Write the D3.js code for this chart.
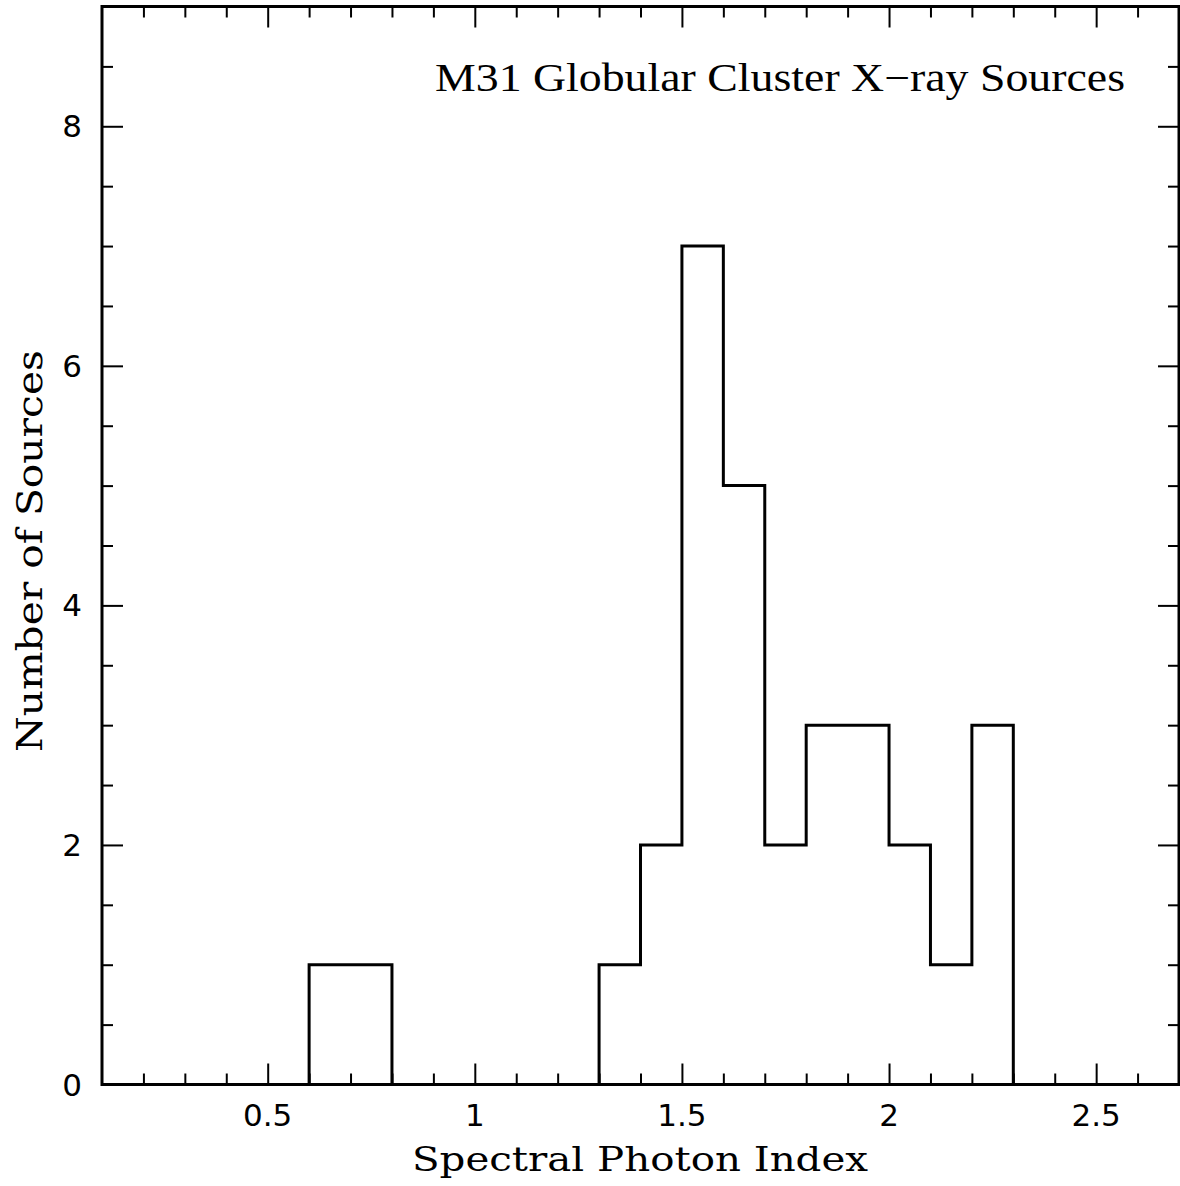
<!DOCTYPE html>
<html>
<head>
<meta charset="utf-8">
<script src="https://cdn.jsdelivr.net/npm/d3@7"></script>
<style>
  html, body { margin: 0; padding: 0; background: #fff; }
  svg { display: block; }
</style>
</head>
<body>
<svg id="chart" width="1180" height="1186"></svg>
<script>
// histogram bins, width 0.1, left edges from 0.1 to 2.6
const binLeft = [0.1, 0.2, 0.3, 0.4, 0.5, 0.6, 0.7, 0.8, 0.9, 1.0, 1.1, 1.2, 1.3,
  1.4, 1.5, 1.6, 1.7, 1.8, 1.9, 2.0, 2.1, 2.2, 2.3, 2.4, 2.5, 2.6];
const counts = [0, 0, 0, 0, 0, 1, 1, 0, 0, 0, 0, 0, 1,
  2, 7, 5, 2, 3, 3, 2, 1, 3, 0, 0, 0, 0];
const binWidth = 0.1;

const xDomain = [0.1, 2.7];
const yDomain = [0, 9];
const xMajor = [0.5, 1, 1.5, 2, 2.5];
const xMinor = [0.2, 0.3, 0.4, 0.6, 0.7, 0.8, 0.9, 1.1, 1.2, 1.3, 1.4, 1.6, 1.7, 1.8, 1.9,
  2.1, 2.2, 2.3, 2.4, 2.6];
const yMajor = [0, 2, 4, 6, 8];
const yMinor = [0.5, 1, 1.5, 2.5, 3, 3.5, 4.5, 5, 5.5, 6.5, 7, 7.5, 8.5];

const titleText = 'M31 Globular Cluster X\u2212ray Sources';
const xTitle = 'Spectral Photon Index';
const yTitle = 'Number of Sources';

const svg = d3.select('#chart');
const box = { left: 102, right: 1179, top: 6.5, bottom: 1084.5 };
const width = box.right - box.left;
const height = box.bottom - box.top;

const x = d3.scaleLinear().domain(xDomain).range([0, width]);
const y = d3.scaleLinear().domain(yDomain).range([height, 0]);

const g = svg.append('g').attr('transform', `translate(${box.left}, ${box.top})`);

// ticks on all four sides, pointing inward
function tickAxis(axisFn, scale, values, size, transform) {
  const a = g.append('g')
    .attr('transform', transform)
    .call(axisFn(scale).tickValues(values).tickSizeInner(-size).tickSizeOuter(0).tickFormat(''));
  a.select('.domain').remove();
  a.selectAll('.tick line').attr('stroke', '#000').attr('stroke-width', 2);
  a.selectAll('.tick text').remove();
}
tickAxis(d3.axisBottom, x, xMajor, 21, `translate(0, ${height})`);
tickAxis(d3.axisBottom, x, xMinor, 11, `translate(0, ${height})`);
tickAxis(d3.axisTop, x, xMajor, 21, 'translate(0, 0)');
tickAxis(d3.axisTop, x, xMinor, 11, 'translate(0, 0)');
tickAxis(d3.axisLeft, y, yMajor, 21, 'translate(0, 0)');
tickAxis(d3.axisLeft, y, yMinor, 11, 'translate(0, 0)');
tickAxis(d3.axisRight, y, yMajor, 21, `translate(${width}, 0)`);
tickAxis(d3.axisRight, y, yMinor, 11, `translate(${width}, 0)`);

// tick labels
g.append('g').selectAll('text')
  .data(xMajor)
  .enter()
  .append('text')
  .attr('x', d => x(d))
  .attr('y', height + 41)
  .attr('text-anchor', 'middle')
  .attr('font-family', 'DejaVu Sans')
  .attr('font-size', 31)
  .attr('fill', '#000')
  .text(d => d);

g.append('g').selectAll('text')
  .data(yMajor)
  .enter()
  .append('text')
  .attr('x', -20)
  .attr('y', d => y(d) + 11)
  .attr('text-anchor', 'end')
  .attr('font-family', 'DejaVu Sans')
  .attr('font-size', 31)
  .attr('fill', '#000')
  .text(d => d);

// histogram as a step line
const steps = binLeft.map((d, i) => [d, counts[i]]);
steps.push([binLeft[binLeft.length - 1] + binWidth, counts[counts.length - 1]]);
const line = d3.line()
  .curve(d3.curveStepAfter)
  .x(d => x(d[0]))
  .y(d => y(d[1]));
g.append('path')
  .datum(steps)
  .attr('d', line)
  .attr('fill', 'none')
  .attr('stroke', '#000')
  .attr('stroke-width', 3);

// frame
g.append('rect')
  .attr('width', width)
  .attr('height', height)
  .attr('fill', 'none')
  .attr('stroke', '#000')
  .attr('stroke-width', 3);

// titles
svg.append('text')
  .attr('x', 435)
  .attr('y', 91)
  .attr('font-family', 'Liberation Serif')
  .attr('font-size', 39)
  .attr('textLength', 690)
  .attr('lengthAdjust', 'spacingAndGlyphs')
  .attr('fill', '#000')
  .text(titleText);

svg.append('text')
  .attr('x', 412)
  .attr('y', 1171)
  .attr('font-family', 'DejaVu Serif')
  .attr('font-size', 34)
  .attr('textLength', 456)
  .attr('lengthAdjust', 'spacingAndGlyphs')
  .attr('fill', '#000')
  .text(xTitle);

svg.append('text')
  .attr('transform', 'translate(42, 752) rotate(-90)')
  .attr('font-family', 'DejaVu Serif')
  .attr('font-size', 36)
  .attr('textLength', 402)
  .attr('lengthAdjust', 'spacingAndGlyphs')
  .attr('fill', '#000')
  .text(yTitle);
</script>
</body>
</html>
